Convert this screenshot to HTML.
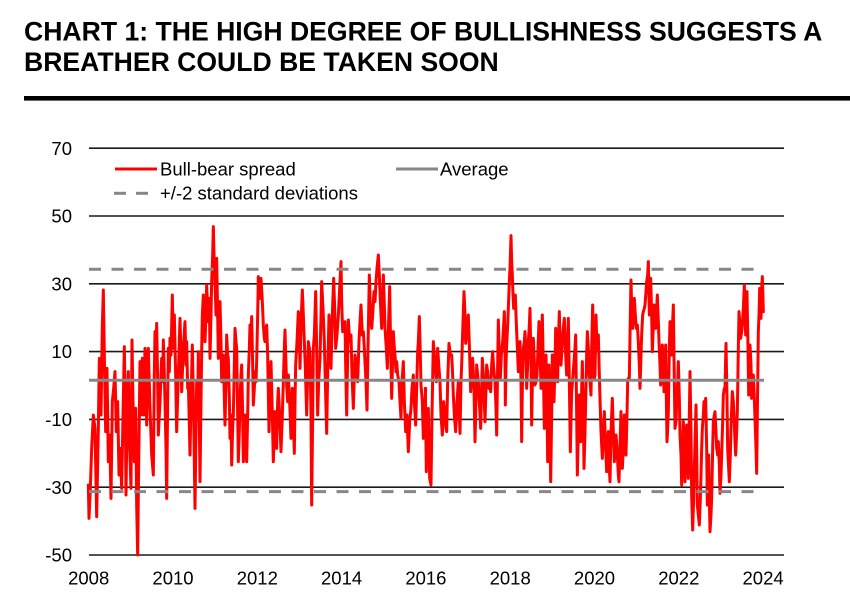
<!DOCTYPE html>
<html>
<head>
<meta charset="utf-8">
<style>
  html, body { margin:0; padding:0; background:#fff; }
  body { width:850px; height:615px; overflow:hidden; }
  svg { display:block; }
  text { font-family:"Liberation Sans", Arial, sans-serif; fill:#000; }
</style>
</head>
<body>
<svg width="850" height="615" viewBox="0 0 850 615" xmlns="http://www.w3.org/2000/svg">
  <!-- Title -->
  <text x="24" y="40.7" font-size="26.6" font-weight="bold">CHART 1: THE HIGH DEGREE OF BULLISHNESS SUGGESTS A</text>
  <text x="24" y="71" font-size="26.6" font-weight="bold">BREATHER COULD BE TAKEN SOON</text>
  <rect x="24" y="96" width="826" height="4.6" fill="#000"/>

  <!-- Gridlines -->
  <g stroke="#1a1a1a" stroke-width="1.6">
    <line x1="89" y1="148.2" x2="784" y2="148.2"/>
    <line x1="89" y1="216" x2="784" y2="216"/>
    <line x1="89" y1="283.8" x2="784" y2="283.8"/>
    <line x1="89" y1="351.6" x2="784" y2="351.6"/>
    <line x1="89" y1="419.4" x2="784" y2="419.4"/>
    <line x1="89" y1="487.2" x2="784" y2="487.2"/>
    <line x1="89" y1="555" x2="784" y2="555"/>
  </g>

  <!-- Y labels -->
  <g font-size="18.5" text-anchor="end">
    <text x="72" y="154.8">70</text>
    <text x="72" y="222.6">50</text>
    <text x="72" y="290.4">30</text>
    <text x="72" y="358.2">10</text>
    <text x="72" y="426">-10</text>
    <text x="72" y="493.8">-30</text>
    <text x="72" y="561.6">-50</text>
  </g>

  <!-- X labels -->
  <g font-size="18.5" text-anchor="middle">
    <text x="88.7" y="584.3">2008</text>
    <text x="173" y="584.3">2010</text>
    <text x="257.3" y="584.3">2012</text>
    <text x="341.6" y="584.3">2014</text>
    <text x="425.9" y="584.3">2016</text>
    <text x="510.2" y="584.3">2018</text>
    <text x="594.5" y="584.3">2020</text>
    <text x="678.8" y="584.3">2022</text>
    <text x="763.1" y="584.3">2024</text>
  </g>

  <!-- Series -->
  <g fill="none" stroke="#ff0000" stroke-width="3" stroke-linejoin="round" stroke-linecap="round">
    <g transform="translate(85,215) scale(0.333333)">
      <polyline vector-effect="non-scaling-stroke" points="10,810 12,910 16,820 20,700 25,600 30,640 35,905 40,640 43,430 48,600 52,330 55,225 58,420 62,650 66,460 70,740 74,660 78,850 82,560 86,520 90,470 94,650 98,560 102,780 106,700 110,820 114,600 118,395 121,600 123,840 127,540 130,470 134,700 138,820 141,375 144,560 148,740 152,580 155,870 158,1020 161,750 165,440 168,600 172,430 176,600 180,400 183,520 185,630 188,420 190,400 195,580 200,720 205,780 208,480 210,350 213,420 215,325 218,500 220,660 225,560 230,430 233,500 235,375 238,480 240,560 243,700 245,850 248,560 250,400 253,470 255,370 258,420 262,240 265,400 268,300 272,480 275,650 280,480 285,310 288,420 290,530 295,400 300,320 303,450 305,380 308,520 310,500 315,720 318,560 322,390 326,600 330,880 333,650 335,500 338,600 340,410 343,620 345,800 348,560 350,410 352,300 355,240 358,330 360,380 363,300 365,210 368,280 370,320 373,250 375,430 378,300 380,200 383,120 385,35 388,160 390,200 393,300 395,130 398,300 400,430 403,350 405,260 408,380 410,500 415,420 420,630 423,500 425,360 428,420 430,430 433,550 435,670 438,600 440,750 443,640 445,600 448,450 450,340 453,380 455,400 458,600 460,740 463,650 465,550 468,480 470,450 473,600 475,740 478,680 480,600 483,700 485,740 488,600 490,480 493,400 495,330 498,380 500,305 503,450 505,570 508,520 510,470 513,500 515,440 518,300 520,185"/>
    </g>
    <g transform="translate(255,215) scale(0.333333)">
      <polyline vector-effect="non-scaling-stroke" points="10,190 14,250 18,190 22,260 25,330 28,370 30,380 33,340 35,330 38,420 42,650 45,520 48,440 52,600 55,740 58,650 60,590 63,650 65,700 68,560 70,520 74,600 78,710 82,600 85,500 88,400 90,345 93,450 95,510 98,560 100,480 104,560 108,670 110,600 112,520 115,600 118,715 120,560 122,450 126,380 130,290 133,350 135,460 138,330 142,225 145,300 148,380 151,460 155,600 158,480 160,380 163,400 165,420 168,600 170,870 173,600 175,400 178,360 182,230 185,400 188,600 191,500 195,430 198,300 200,200 204,280 208,380 211,500 215,655 218,480 222,300 225,360 228,460 232,300 236,190 239,280 242,400 246,360 250,300 254,220 258,140 260,260 263,350 266,330 270,320 272,450 275,600 278,420 280,315 284,380 288,360 291,480 295,580 298,480 300,420 304,450 308,500 312,380 315,320 318,270 322,360 325,350 328,400 330,440 333,500 336,585 339,400 343,180 346,280 350,340 353,300 357,230 360,260 363,200 366,160 370,120 373,180 375,230 378,300 380,340 383,250 385,180 388,270 390,340 394,400 397,460 400,350 404,215 407,400 410,550 413,430 415,350 418,400 420,420 423,470 425,440 428,480 432,500 435,560 438,610 441,500 445,440 448,560 452,650 456,600 460,710 464,620 468,580 471,520 475,480 478,560 482,630 485,520 488,410 490,380 493,305 496,420 498,510 502,560 505,670 508,600 512,520"/>
    </g>
    <g transform="translate(425,215) scale(0.333333)">
      <polyline vector-effect="non-scaling-stroke" points="1,520 4,770 7,600 10,580 14,790 18,810 21,600 25,380 28,420 30,440 34,500 38,400 42,460 45,500 48,600 52,660 56,560 60,600 63,640 65,650 68,500 72,385 76,420 80,420 83,480 85,540 88,600 92,650 96,560 100,500 103,600 105,655 108,500 110,450 114,320 117,230 120,300 122,385 126,350 130,300 134,420 137,530 140,480 143,430 147,520 150,680 153,560 155,450 158,480 160,500 163,560 167,640 170,520 172,430 176,500 180,620 183,520 185,450 188,470 192,520 195,500 197,530 200,450 203,410 206,460 210,500 213,580 215,660 218,450 220,315 223,420 226,490 229,420 233,380 236,330 238,290 240,400 241,570 243,450 245,390 248,330 250,280 253,200 255,160 258,62 260,140 262,180 264,240 266,280 268,250 271,240 273,300 275,350 278,420 280,470 283,400 285,380 288,500 290,680 292,520 295,400 298,380 300,350 303,420 305,520 308,450 310,380 313,330 315,280 318,450 320,630 322,500 325,370 328,440 330,510 333,500 336,480 339,400 342,320 345,400 348,520 350,400 352,300 355,460 358,640 360,520 363,420 366,580 368,740 370,600 372,450 375,620 377,800 380,600 382,420 385,480 387,560 390,450 392,340 395,400 398,500 400,380 403,290 405,380 408,450 411,400 413,360 416,330 418,310 421,400 425,480 428,380 430,310 433,500 436,710 438,620 440,530 444,480 447,440 450,400 452,360 455,600 457,780 460,650 462,540 465,600 467,680 470,520 472,440 475,600 477,760 480,650 482,560 485,420 487,350 490,400 492,470 495,500 498,540 500,400 503,270 505,380 508,490 510,480"/>
    </g>
    <g transform="translate(595,215) scale(0.333333)">
      <polyline vector-effect="non-scaling-stroke" points="0,480 3,300 6,400 10,360 13,480 15,550 18,650 22,730 25,650 28,590 32,700 35,770 38,700 40,650 43,760 45,800 48,650 52,550 55,650 58,740 60,700 63,660 66,700 68,740 70,780 72,800 75,700 78,590 80,680 82,760 85,700 88,600 90,650 93,720 96,600 98,500 100,490 103,490 106,300 108,195 110,280 113,340 116,300 118,250 121,300 124,340 127,330 130,380 133,450 135,520 138,420 140,360 143,300 145,290 148,280 150,270 153,230 155,200 158,180 160,140 162,250 163,300 165,250 167,190 170,300 172,410 175,330 177,270 180,300 182,340 185,280 187,240 190,320 192,380 195,450 197,510 200,440 202,390 205,450 207,530 210,450 212,390 214,550 216,680 218,640 220,590 223,400 225,320 228,380 230,420 233,320 235,270 238,500 240,640 243,620 245,560 248,500 250,440 253,550 255,660 258,720 260,810 263,700 265,620 268,700 270,800 273,700 275,630 278,700 280,790 283,600 285,470 288,650 290,840 293,945 296,850 298,760 301,650 303,570 305,700 307,870 310,900 313,930 316,850 318,780 320,700 322,640 325,600 327,560 330,580 332,550 335,700 337,870 339,800 341,720 343,850 345,950 348,900 350,850 353,700 355,620 358,600 360,590 363,650 365,700 368,720 370,680 373,750 375,835 378,780 380,720 383,620 385,540 388,520 390,520 393,385 396,550 398,700 401,760 403,800 406,720 408,640 410,580 412,530 415,560 417,600 420,680 422,720 425,650 427,590 430,400 432,290 435,330 437,370 440,350 442,330 445,280 448,210 450,300 452,360 454,280 456,230 459,400 461,540 463,470 465,390 468,450 470,550 473,500 475,480 478,550 480,610 483,700 485,775 487,600 490,350 492,300 494,220 496,260 498,310 500,220 502,185 504,250 505,290"/>
    </g>
  </g>

  <!-- Average and +/-2 SD -->
  <line x1="89" y1="380.3" x2="764" y2="380.3" stroke="#878787" stroke-width="3"/>
  <line x1="89" y1="269.2" x2="764" y2="269.2" stroke="#878787" stroke-width="3" stroke-dasharray="12 10.5"/>
  <line x1="89" y1="491.6" x2="764" y2="491.6" stroke="#878787" stroke-width="3" stroke-dasharray="12 10.5"/>

  <!-- Legend -->
  <line x1="115" y1="169" x2="157" y2="169" stroke="#ff0000" stroke-width="3"/>
  <text x="160" y="175.3" font-size="18.5">Bull-bear spread</text>
  <line x1="396" y1="169" x2="438" y2="169" stroke="#878787" stroke-width="3"/>
  <text x="440" y="175.3" font-size="18.5">Average</text>
  <line x1="114" y1="193.3" x2="126" y2="193.3" stroke="#878787" stroke-width="3"/>
  <line x1="136" y1="193.3" x2="148" y2="193.3" stroke="#878787" stroke-width="3"/>
  <text x="160" y="199.6" font-size="18.5">+/-2 standard deviations</text>
</svg>
</body>
</html>
